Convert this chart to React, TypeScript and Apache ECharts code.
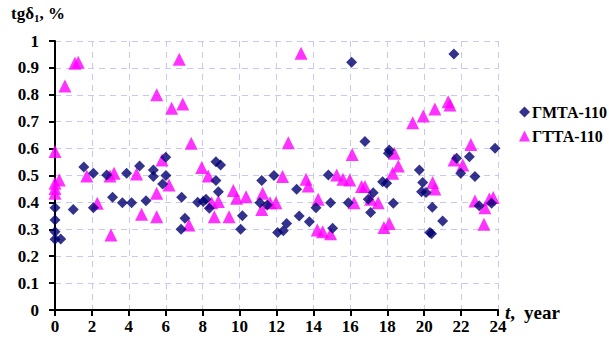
import React, { useEffect, useRef } from "react";
import * as echarts from "echarts";

const xTicks = [0, 2, 4, 6, 8, 10, 12, 14, 16, 18, 20, 22, 24];
const yTicks = [0, 0.1, 0.2, 0.3, 0.4, 0.5, 0.6, 0.7, 0.8, 0.9, 1];

const seriesNames = ["ГМТА-110", "ГТТА-110"];

const gmta: [number, number][] = [
  [0, 0.38], [0, 0.335], [0, 0.291], [0, 0.263], [0.31, 0.264],
  [0.99, 0.374], [1.56, 0.532], [2.08, 0.508], [2.08, 0.38], [2.8, 0.502],
  [3.12, 0.419], [3.65, 0.399], [3.88, 0.508], [4.15, 0.399], [4.58, 0.535],
  [4.93, 0.406], [5.33, 0.52], [5.33, 0.496], [5.83, 0.468], [6.0, 0.568], [6.01, 0.5],
  [6.83, 0.3], [6.86, 0.419], [7.04, 0.341], [7.73, 0.401], [8.03, 0.403], [8.18, 0.412], [8.36, 0.378],
  [8.72, 0.551], [8.97, 0.539], [8.72, 0.481], [8.85, 0.44],
  [10.06, 0.3], [10.15, 0.35],
  [11.1, 0.399], [11.2, 0.481], [11.5, 0.39], [11.86, 0.5],
  [12.06, 0.288], [12.37, 0.295], [12.55, 0.322],
  [13.09, 0.449], [13.23, 0.349], [13.78, 0.328],
  [14.14, 0.38], [14.81, 0.502], [14.93, 0.399], [15.04, 0.304], [15.89, 0.399],
  [16.07, 0.921], [16.79, 0.626], [16.97, 0.412], [17.1, 0.362], [17.24, 0.436],
  [17.75, 0.477], [17.97, 0.471], [18.06, 0.583], [18.11, 0.595], [18.33, 0.397],
  [19.74, 0.52], [19.92, 0.474], [19.86, 0.44], [20.1, 0.437], [20.44, 0.382], [20.31, 0.288], [20.4, 0.283],
  [21.0, 0.331], [21.61, 0.952], [21.76, 0.564], [21.98, 0.508], [22.45, 0.57], [22.75, 0.496],
  [22.98, 0.388], [23.65, 0.397], [23.84, 0.601],
];

const gtta: [number, number][] = [
  [0, 0.589], [0, 0.471], [0, 0.452], [0, 0.434], [0.23, 0.483], [0.54, 0.833], [1.08, 0.917], [1.26, 0.921],
  [1.72, 0.498], [2.29, 0.397], [2.98, 0.498], [3.03, 0.279], [3.2, 0.508], [4.42, 0.506], [4.69, 0.356],
  [5.51, 0.8], [5.51, 0.434], [5.51, 0.347], [5.8, 0.558], [6.18, 0.465], [6.32, 0.75], [6.73, 0.932], [6.92, 0.766],
  [7.26, 0.316], [7.38, 0.62], [7.95, 0.53],
  [8.3, 0.498], [8.49, 0.399], [8.63, 0.347], [8.85, 0.403], [9.43, 0.347], [9.66, 0.444], [9.84, 0.415], [10.35, 0.421],
  [11.2, 0.374], [11.25, 0.434], [11.65, 0.399], [11.97, 0.399], [12.33, 0.496], [12.64, 0.622], [13.33, 0.954],
  [13.6, 0.486], [13.72, 0.461], [14.21, 0.297], [14.26, 0.412], [14.5, 0.291], [14.93, 0.283],
  [15.26, 0.502], [15.6, 0.486], [15.97, 0.483], [16.1, 0.578],
  [16.2, 0.399], [16.61, 0.459], [16.79, 0.459], [17.1, 0.412], [17.51, 0.399], [17.82, 0.307], [18.11, 0.322],
  [18.29, 0.508], [18.38, 0.583], [18.6, 0.535],
  [19.38, 0.696], [19.95, 0.721], [20.46, 0.474], [20.58, 0.45], [20.58, 0.747], [21.3, 0.774], [21.4, 0.762],
  [21.62, 0.558], [22.09, 0.539], [22.53, 0.615],
  [22.75, 0.405], [23.24, 0.319], [23.29, 0.38], [23.53, 0.413], [23.74, 0.418],
];

const FONT = "'Liberation Serif', 'Times New Roman', serif";

export default function App() {
  const ref = useRef<HTMLDivElement>(null);
  useEffect(() => {
    if (!ref.current) return;
    const chart = echarts.init(ref.current, null, { renderer: "svg" });
    const gridLine = { show: true, lineStyle: { color: "#c8c8f5", type: [6, 5] as any, width: 1 } };
    chart.setOption({
      animation: false,
      backgroundColor: "#fff",
      grid: { left: 55, right: 111, top: 41, bottom: 37 },
      xAxis: {
        type: "value",
        min: xTicks[0],
        max: xTicks[xTicks.length - 1],
        interval: 2,
        axisLine: { show: true, onZero: false, lineStyle: { color: "#000", width: 2 } },
        axisTick: { show: true, length: 6, lineStyle: { color: "#000", width: 2 } },
        axisLabel: { color: "#000", fontFamily: FONT, fontWeight: "bold", fontSize: 17, margin: 8 },
        splitLine: gridLine,
      },
      yAxis: {
        type: "value",
        min: yTicks[0],
        max: yTicks[yTicks.length - 1],
        interval: 0.1,
        axisLine: { show: true, onZero: false, lineStyle: { color: "#000", width: 2 } },
        axisTick: { show: true, length: 6, lineStyle: { color: "#000", width: 2 } },
        axisLabel: {
          color: "#000",
          fontFamily: FONT,
          fontWeight: "bold",
          fontSize: 17,
          margin: 16,
          formatter: (v: number) => String(Math.round(v * 10) / 10),
        },
        splitLine: gridLine,
      },
      legend: {
        orient: "vertical",
        left: 514,
        top: 99,
        itemGap: 8,
        itemWidth: 11,
        itemHeight: 11,
        textStyle: { fontFamily: FONT, fontWeight: "bold", fontSize: 16, color: "#000", padding: [0, 0, 0, -3] },
        data: [
          { name: seriesNames[0], icon: "diamond" },
          { name: seriesNames[1], icon: "triangle" },
        ],
      },
      graphic: [
        {
          type: "text",
          left: 11,
          top: 5,
          style: {
            text: "{a|tgδ}{s|1}{a|, %}",
            rich: {
              a: { fontFamily: FONT, fontWeight: "bold", fontSize: 17, fill: "#000" },
              s: { fontFamily: FONT, fontWeight: "bold", fontSize: 11, fill: "#000", verticalAlign: "bottom", padding: [8, 0, 0, 0] },
            },
          },
        },
        {
          type: "text",
          left: 505,
          top: 303,
          style: {
            text: "{i|t}{n|,}{y|year}",
            rich: {
              i: { fontFamily: FONT, fontWeight: "bold", fontStyle: "italic", fontSize: 19, fill: "#000" },
              n: { fontFamily: FONT, fontWeight: "bold", fontSize: 19, fill: "#000" },
              y: { fontFamily: FONT, fontWeight: "bold", fontSize: 19, fill: "#000", padding: [0, 0, 0, 9] },
            },
          },
        },
      ],
      series: [
        {
          name: seriesNames[0],
          type: "scatter",
          symbol: "diamond",
          symbolSize: 11,
          itemStyle: { color: "#000070" },
          data: gmta,
          z: 3,
        },
        {
          name: seriesNames[1],
          type: "scatter",
          symbol: "triangle",
          symbolSize: 13,
          itemStyle: { color: "#ff00ff" },
          data: gtta,
          z: 2,
        },
      ],
    });
    return () => chart.dispose();
  }, []);
  return <div ref={ref} style={{ width: 609, height: 347, position: "absolute", left: 0, top: 0 }} />;
}
